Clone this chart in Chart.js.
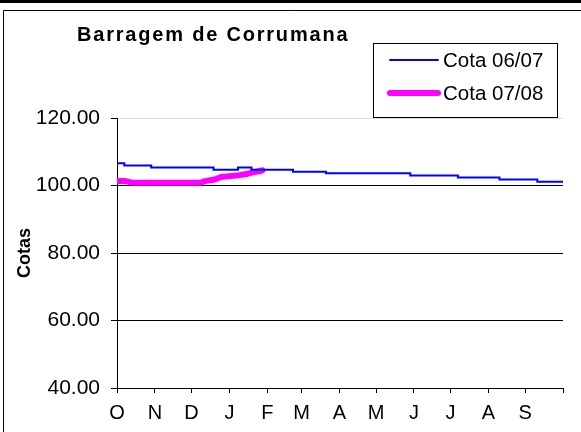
<!DOCTYPE html>
<html>
<head>
<meta charset="utf-8">
<script src="https://cdn.jsdelivr.net/npm/chart.js@4"></script>
<style>
  html, body { margin: 0; padding: 0; background: #fff; }
  #wrap { position: relative; width: 581px; height: 432px; }
</style>
</head>
<body>
<div id="wrap"><canvas id="chart" width="581" height="432"></canvas></div>
<script>
// hydrological year, day 0 = 1 October
const monthLabels = ['O', 'N', 'D', 'J', 'F', 'M', 'A', 'M', 'J', 'J', 'A', 'S', '']
const monthStarts = [0, 31, 61, 92, 123, 151, 182, 212, 243, 273, 304, 334, 365]
const yTicks = [40, 60, 80, 100, 120]

const days0607 = [0, 6, 28, 79, 99, 110, 144, 171, 240, 279, 313, 344, 365]
const cota0607 = [106.6, 105.9, 105.3, 104.7, 105.3, 104.7, 104.1, 103.6, 103.0, 102.4, 101.8, 101.1, 101.1]

const days0708 = [0, 7, 13, 68, 72, 80, 85, 99, 106, 111, 117, 119]
const cota0708 = [101.3, 101.3, 100.8, 100.8, 101.3, 101.8, 102.5, 103.0, 103.4, 103.9, 104.3, 104.5]

const toPoints = (xs, ys) => xs.map((d, i) => ({ x: d, y: ys[i] }))

const FONT = 'Arial, "Liberation Sans", sans-serif'

const decor = {
    id: 'decor',
    beforeDraw(chart) {
        const ctx = chart.ctx
        ctx.save()
        ctx.fillStyle = '#fff'
        ctx.fillRect(0, 0, chart.width, chart.height)
        // top bar and frame
        ctx.fillStyle = '#000'
        ctx.fillRect(0, 0, chart.width, 3)
        ctx.strokeStyle = '#000'
        ctx.lineWidth = 1
        ctx.beginPath()
        ctx.moveTo(3.5, chart.height)
        ctx.lineTo(3.5, 10.5)
        ctx.lineTo(chart.width, 10.5)
        ctx.stroke()
        ctx.restore()
    },
    afterDraw(chart) {
        const ctx = chart.ctx
        ctx.save()
        // title
        ctx.fillStyle = '#000'
        ctx.font = 'bold 20px ' + FONT
        ctx.textBaseline = 'middle'
        ctx.textAlign = 'left'
        if ('letterSpacing' in ctx) ctx.letterSpacing = '1.8px'
        ctx.fillText('Barragem de Corrumana', 77, 35)
        if ('letterSpacing' in ctx) ctx.letterSpacing = '0px'
        // legend box
        ctx.fillStyle = '#fff'
        ctx.fillRect(373, 43, 184, 74)
        ctx.strokeStyle = '#000'
        ctx.lineWidth = 1
        ctx.strokeRect(373.5, 43.5, 184, 74)
        ctx.font = '20.5px ' + FONT
        const rows = [60, 93]
        chart.data.datasets.forEach((ds, i) => {
            const y = rows[i]
            ctx.strokeStyle = ds.borderColor
            ctx.lineWidth = ds.borderWidth
            ctx.lineCap = 'round'
            ctx.beginPath()
            ctx.moveTo(390, y)
            ctx.lineTo(438, y)
            ctx.stroke()
            ctx.fillStyle = '#000'
            ctx.fillText(ds.label, 443, y + 1)
        })
        ctx.restore()
    }
}

new Chart(document.getElementById('chart'), {
    type: 'line',
    data: {
        datasets: [
            {
                label: 'Cota 06/07',
                data: toPoints(days0607, cota0607),
                borderColor: '#0000ff',
                borderWidth: 2,
                stepped: true,
                pointRadius: 0,
                fill: false
            },
            {
                label: 'Cota 07/08',
                data: toPoints(days0708, cota0708),
                borderColor: '#ff00ff',
                borderWidth: 6,
                borderCapStyle: 'round',
                borderJoinStyle: 'round',
                pointRadius: 0,
                fill: false
            }
        ]
    },
    options: {
        responsive: false,
        animation: false,
        layout: { padding: { left: 0, top: 118, right: 18, bottom: 0 } },
        plugins: {
            legend: { display: false },
            title: { display: false },
            tooltip: { enabled: false }
        },
        scales: {
            x: {
                type: 'linear',
                min: 0,
                max: 365,
                afterBuildTicks: (scale) => {
                    scale.ticks = monthStarts.map(v => ({ value: v }))
                },
                afterFit: (scale) => { scale.height = 44 },
                ticks: {
                    autoSkip: false,
                    maxRotation: 0,
                    padding: 8,
                    color: '#000',
                    font: { family: FONT, size: 20 },
                    callback: (v, i) => monthLabels[i]
                },
                grid: {
                    drawOnChartArea: false,
                    tickLength: 5,
                    tickColor: '#000'
                },
                border: { color: '#000', width: 1 }
            },
            y: {
                min: 40,
                max: 120,
                afterBuildTicks: (scale) => {
                    scale.ticks = yTicks.map(v => ({ value: v }))
                },
                afterFit: (scale) => { scale.width = 117 },
                ticks: {
                    padding: 11,
                    color: '#000',
                    font: { family: FONT, size: 21 },
                    callback: (v) => Number(v).toFixed(2)
                },
                grid: {
                    tickLength: 6,
                    tickColor: '#000',
                    color: (c) => c.tick.value === 120 ? '#e0e0e0' : (c.tick.value === 40 ? 'rgba(0,0,0,0)' : '#000')
                },
                border: { color: '#000', width: 1 },
                title: {
                    display: true,
                    text: 'Cotas',
                    color: '#000',
                    padding: { top: 14, bottom: 0 },
                    font: { family: FONT, size: 18, weight: 'bold' }
                }
            }
        }
    },
    plugins: [decor]
})
</script>
</body>
</html>
